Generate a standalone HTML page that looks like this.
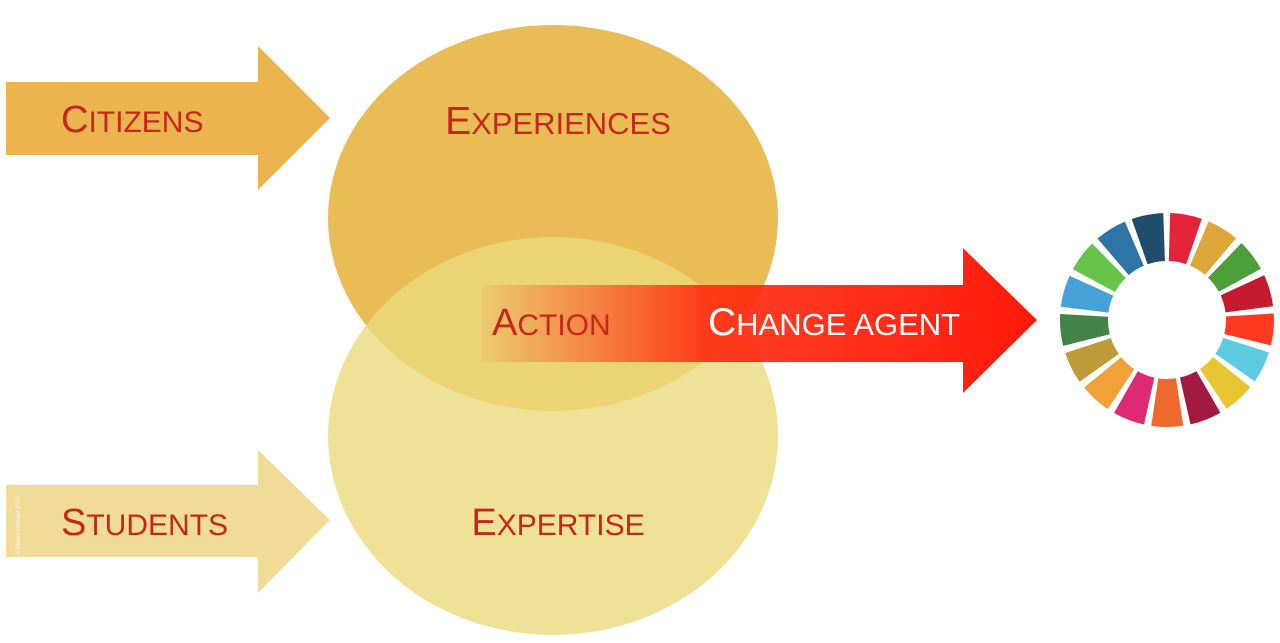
<!DOCTYPE html>
<html><head><meta charset="utf-8"><style>
html,body{margin:0;padding:0;background:#fff;width:1280px;height:643px;overflow:hidden}
text{font-family:"Liberation Sans",sans-serif}
</style></head><body>
<svg width="1280" height="643" viewBox="0 0 1280 643" xmlns="http://www.w3.org/2000/svg">
<defs>
<linearGradient id="rg" x1="482" y1="0" x2="1037" y2="0" gradientUnits="userSpaceOnUse">
<stop offset="0" stop-color="#ff2a10" stop-opacity="0.05"/>
<stop offset="0.4" stop-color="#ff2a10" stop-opacity="0.9"/>
<stop offset="1" stop-color="#ff1a0a"/>
</linearGradient>
</defs>
<!-- left arrows -->
<polygon points="6,82 258,82 258,46 330,118 258,190 258,155 6,155" fill="#ebb44e"/>
<polygon points="6,485 258,485 258,450 330,520 258,593 258,557 6,557" fill="#f0dc97"/>
<!-- circles -->
<ellipse cx="553" cy="218" rx="225" ry="193" fill="#e9bc55"/>
<ellipse cx="553" cy="436" rx="225" ry="199" fill="#ebda7b" fill-opacity="0.79"/>
<!-- red arrow -->
<polygon points="482,285 963,285 963,248 1037,320 963,393 963,362 482,362" fill="url(#rg)"/>
<!-- text -->
<g fill="#c8261a">
<text x="61" y="132" font-size="38">C<tspan font-size="30">ITIZENS</tspan></text>
<text x="558" y="134" font-size="39" text-anchor="middle">E<tspan font-size="31">XPERIENCES</tspan></text>
<text x="492" y="335" font-size="38">A<tspan font-size="30">CTION</tspan></text>
<text x="61" y="535" font-size="38">S<tspan font-size="30">TUDENTS</tspan></text>
<text x="558" y="535" font-size="38" text-anchor="middle">E<tspan font-size="30">XPERTISE</tspan></text>
</g>
<text x="708" y="335" font-size="39" fill="#fff">C<tspan font-size="31">HANGE AGENT</tspan></text>
<text transform="translate(20,555) rotate(-90)" font-size="6" fill="#fff" fill-opacity="0.8">© Martin Gebner 2021</text>
<!-- SDG wheel -->
<g transform="translate(1167,320) rotate(-90)" fill="none" stroke-width="48">
<circle r="83" stroke="#e5243b" stroke-dasharray="25 496.5" stroke-dashoffset="-2.5"/>
<circle r="83" stroke="#dda63a" stroke-dasharray="25 496.5" stroke-dashoffset="-33.18"/>
<circle r="83" stroke="#4c9f38" stroke-dasharray="25 496.5" stroke-dashoffset="-63.86"/>
<circle r="83" stroke="#c5192d" stroke-dasharray="25 496.5" stroke-dashoffset="-94.54"/>
<circle r="83" stroke="#ff3a21" stroke-dasharray="25 496.5" stroke-dashoffset="-125.22"/>
<circle r="83" stroke="#5ccbe2" stroke-dasharray="25 496.5" stroke-dashoffset="-155.9"/>
<circle r="83" stroke="#e9c433" stroke-dasharray="25 496.5" stroke-dashoffset="-186.58"/>
<circle r="83" stroke="#a21942" stroke-dasharray="25 496.5" stroke-dashoffset="-217.26"/>
<circle r="83" stroke="#ed6a2c" stroke-dasharray="25 496.5" stroke-dashoffset="-247.94"/>
<circle r="83" stroke="#dd2a73" stroke-dasharray="25 496.5" stroke-dashoffset="-278.62"/>
<circle r="83" stroke="#f0a137" stroke-dasharray="25 496.5" stroke-dashoffset="-309.3"/>
<circle r="83" stroke="#bf9a3a" stroke-dasharray="25 496.5" stroke-dashoffset="-339.98"/>
<circle r="83" stroke="#438249" stroke-dasharray="25 496.5" stroke-dashoffset="-370.66"/>
<circle r="83" stroke="#47a0d6" stroke-dasharray="25 496.5" stroke-dashoffset="-401.34"/>
<circle r="83" stroke="#66c548" stroke-dasharray="25 496.5" stroke-dashoffset="-432.02"/>
<circle r="83" stroke="#2e75a6" stroke-dasharray="25 496.5" stroke-dashoffset="-462.7"/>
<circle r="83" stroke="#224c6c" stroke-dasharray="25 496.5" stroke-dashoffset="-493.38"/>
</g>
</svg>
</body></html>
